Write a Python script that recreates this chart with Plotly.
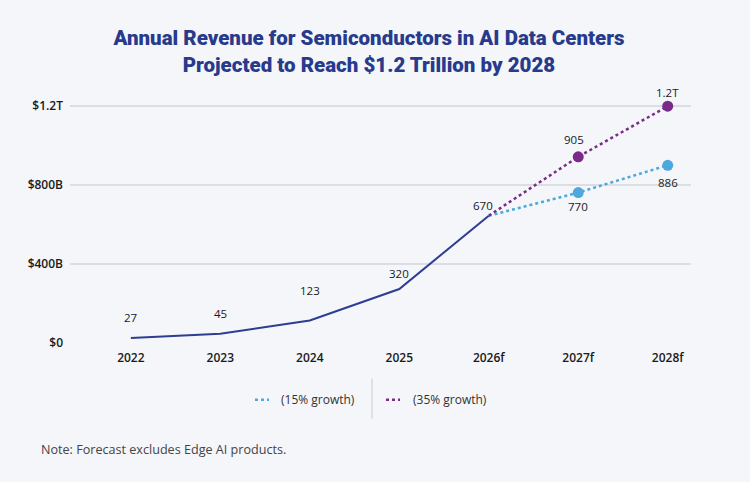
import plotly.graph_objects as go

# ---- data ----
years = ["2022", "2023", "2024", "2025", "2026f"]
revenue = [25, 47, 114, 273, 644]            # $B, as plotted
revenue_labels = ["27", "45", "123", "320", "670"]

fc_years = ["2026f", "2027f", "2028f"]
growth15 = [644, 761, 899]
growth15_labels = ["", "770", "886"]
growth35 = [644, 942, 1198]
growth35_labels = ["", "905", "1.2T"]

all_years = ["2022", "2023", "2024", "2025", "2026f", "2027f", "2028f"]
ytick_vals = [0, 400, 800, 1200]
ytick_text = ["$0", "$400B", "$800B", "$1.2T"]

# ---- styles ----
BG = "#f4f6fa"
NAVY = "#2e3d92"
TITLE_C = "#283a8c"
BLUE = "#4ea7dd"
PURPLE = "#7a2a89"
GRID = "#dcdee3"
FONT = "Open Sans"

# label offsets (px) — styling only
main_shift = [(0, 21), (0, 20), (0, 30), (0, 16), (-6, 10)]
g15_shift = [None, (0, -14), (0, -17)]
g35_shift = [None, (-4, 17), (0, 14)]

fig = go.Figure()
fig.add_trace(go.Scatter(x=years, y=revenue, mode="lines",
                         line=dict(color=NAVY, width=2), showlegend=False, hoverinfo="skip"))
fig.add_trace(go.Scatter(x=fc_years, y=growth15, mode="lines",
                         line=dict(color=BLUE, width=2.5, dash="dot"), showlegend=False))
fig.add_trace(go.Scatter(x=fc_years[1:], y=growth15[1:], mode="markers",
                         marker=dict(color=BLUE, size=11), showlegend=False))
fig.add_trace(go.Scatter(x=fc_years, y=growth35, mode="lines",
                         line=dict(color=PURPLE, width=2.5, dash="dot"), showlegend=False))
fig.add_trace(go.Scatter(x=fc_years[1:], y=growth35[1:], mode="markers",
                         marker=dict(color=PURPLE, size=11), showlegend=False))

annotations = []
def add_labels(xs, ys, labels, shifts):
    for x, y, t, s in zip(xs, ys, labels, shifts):
        if not t:
            continue
        annotations.append(dict(x=all_years.index(x), y=y, xref="x", yref="y", text=t, showarrow=False,
                                xshift=s[0], yshift=s[1],
                                font=dict(family=FONT, size=11.5, color="#1a1a1a")))

add_labels(years, revenue, revenue_labels, main_shift)
add_labels(fc_years, growth15, growth15_labels, g15_shift)
add_labels(fc_years, growth35, growth35_labels, g35_shift)

# pixel -> paper helpers (plot area x 70..691, y 90..343.3)
L, R, T, B = 70, 691, 90, 343.3
def px(x):
    return (x - L) / (R - L)
def py(y):
    return (B - y) / (B - T)

# custom legend
legend_y = 400
shapes = [
    dict(type="line", xref="paper", yref="paper", x0=px(255), x1=px(269), y0=py(legend_y), y1=py(legend_y),
         line=dict(color=BLUE, width=2.5, dash="dot")),
    dict(type="line", xref="paper", yref="paper", x0=px(386), x1=px(400), y0=py(legend_y), y1=py(legend_y),
         line=dict(color=PURPLE, width=2.5, dash="dot")),
    dict(type="line", xref="paper", yref="paper", x0=px(372), x1=px(372), y0=py(379), y1=py(419),
         line=dict(color="#c9cbd0", width=1)),
]
annotations += [
    dict(xref="paper", yref="paper", x=px(279), y=py(legend_y), xanchor="left", yanchor="middle",
         text="(15% growth)", showarrow=False, font=dict(family=FONT, size=12, color="#333")),
    dict(xref="paper", yref="paper", x=px(411), y=py(legend_y), xanchor="left", yanchor="middle",
         text="(35% growth)", showarrow=False, font=dict(family=FONT, size=12, color="#333")),
    dict(xref="paper", yref="paper", x=px(39), y=py(450), xanchor="left", yanchor="middle",
         text="Note: Forecast excludes Edge AI products.", showarrow=False,
         font=dict(family=FONT, size=12.6, color="#444")),
]

fig.update_layout(
    width=750, height=482,
    paper_bgcolor=BG, plot_bgcolor=BG,
    margin=dict(l=L, r=750 - R, t=T, b=482 - B),
    title=dict(text="Annual Revenue for Semiconductors in AI Data Centers<br>Projected to Reach $1.2 Trillion by 2028",
               x=369 / 750, xanchor="center", y=1 - 45 / 482, yanchor="middle",
               font=dict(family="Roboto", size=20.5, color=TITLE_C, weight=900)),
    xaxis=dict(type="category", categoryorder="array", categoryarray=all_years,
               range=[-0.68, 6.26], showgrid=False, zeroline=False, showline=False,
               tickfont=dict(family=FONT, size=12, color="#1a1a1a", weight=600), ticks="",
               ticklabelstandoff=6),
    yaxis=dict(range=[0, 1280], tickvals=ytick_vals, ticktext=ytick_text,
               showgrid=True, gridcolor=GRID, gridwidth=1.5, zeroline=False, showline=False,
               tickfont=dict(family=FONT, size=12, color="#1a1a1a", weight=600), ticks="",
               ticklabelstandoff=6),
    shapes=shapes, annotations=annotations, showlegend=False,
)
fig.write_html("out.html")
